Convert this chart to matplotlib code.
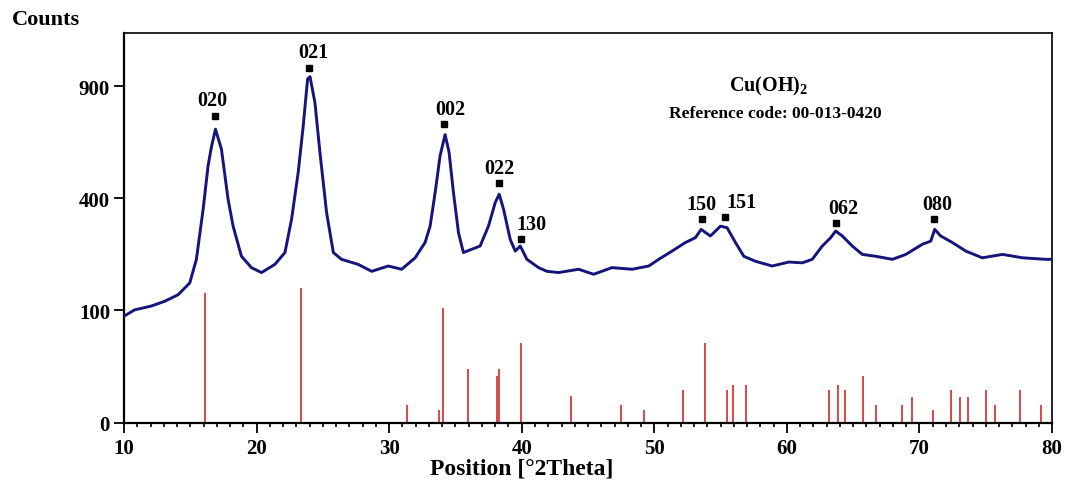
import numpy as np
import matplotlib
matplotlib.use("Agg")
import matplotlib.pyplot as plt
from matplotlib.ticker import MultipleLocator, FixedLocator

plt.rcParams["mathtext.fontset"] = "custom"
plt.rcParams["mathtext.rm"] = "Liberation Serif:bold"
plt.rcParams["mathtext.bf"] = "Liberation Serif:bold"

# ---- data ----
two_theta = [10.0, 10.8, 12.06, 13.07, 14.08, 14.96, 15.46, 15.97, 16.34, 16.6, 16.9,
             17.35, 17.85, 18.23, 18.86, 19.61, 20.37, 21.38, 22.14, 22.64, 23.14,
             23.52, 23.85, 24.03, 24.4, 24.78, 25.28, 25.79, 26.41, 27.67, 28.68,
             29.94, 30.94, 31.96, 32.71, 33.09, 33.47, 33.84, 34.22, 34.52, 34.85,
             35.23, 35.6, 36.23, 36.86, 37.49, 38.0, 38.3, 38.63, 39.13, 39.51,
             39.89, 40.39, 41.27, 41.9, 42.78, 44.29, 45.42, 46.81, 48.32, 49.58,
             50.33, 51.34, 52.35, 53.1, 53.53, 54.23, 54.99, 55.49, 56.12, 56.75,
             57.63, 58.89, 60.15, 61.16, 61.91, 62.67, 63.3, 63.68, 64.18, 64.93,
             65.69, 66.7, 67.96, 68.97, 70.22, 70.85, 71.15, 71.6, 72.48, 73.49,
             74.74, 76.26, 77.77, 79.53, 80.0]
counts = [90, 101, 108, 117, 130, 155, 212, 362, 524, 606, 685,
          595, 397, 307, 220, 191, 179, 199, 230, 329, 498,
          701, 940, 952, 816, 581, 351, 230, 212, 199, 182,
          195, 187, 216, 258, 307, 421, 566, 660, 581, 421,
          287, 230, 239, 248, 307, 385, 415, 362, 267, 234,
          248, 212, 191, 182, 179, 187, 175, 191, 187, 195,
          212, 234, 258, 272, 297, 277, 307, 302, 258, 220,
          207, 195, 205, 203, 212, 248, 272, 292, 277, 248,
          225, 220, 212, 225, 253, 262, 297, 277, 258, 234,
          216, 225, 216, 212, 212]

ref_pos = [16.09, 23.35, 31.35, 33.74, 34.04, 35.93, 38.15, 38.25, 39.98, 43.74,
           47.49, 49.23, 52.2, 53.8, 55.47, 55.94, 56.9, 63.15, 63.85, 64.4,
           65.74, 66.72, 68.71, 69.42, 71.05, 72.39, 73.07, 73.65, 75.05, 75.66,
           77.6, 79.19]
ref_int = [134, 144, 2.5, 1.3, 105, 22.8, 17.5, 22.8, 50.4, 5.4,
           2.5, 1.3, 8.2, 50.4, 8.2, 10.95, 10.95, 8.2, 10.95, 8.2,
           16.9, 2.5, 2.5, 5.2, 1.3, 8.2, 5.2, 5.2, 8.2, 2.5,
           8.2, 2.5]

peak_labels = ["020", "021", "002", "022", "130", "150", "151", "062", "080"]
peak_pos = [16.87, 23.97, 34.17, 38.32, 39.91, 53.58, 55.32, 63.7, 71.1]
peak_mark = [748, 1001, 709, 456, 267, 329, 335, 316, 329]
label_dx = [-2, 3, 4, 0, 8, 0, 12, 5, 2]

x_ticks = [10, 20, 30, 40, 50, 60, 70, 80]
y_ticks = [0, 100, 400, 900]

serif = ["Liberation Serif", "DejaVu Serif"]

fig = plt.figure(figsize=(10.67, 4.81), dpi=100)
ax = fig.add_axes([0.1162, 0.1195, 0.8698, 0.8095])

fwd = lambda y: np.sqrt(np.clip(y, 0, None))
inv = lambda y: np.asarray(y) ** 2
ax.set_yscale("function", functions=(fwd, inv))

ax.vlines(ref_pos, 0, ref_int, colors="#d43c3c", linewidth=1.3, zorder=2)
ax.plot(two_theta, counts, color="#14147a", linewidth=2.1, zorder=3)

ax.plot(peak_pos, peak_mark, linestyle="none", marker="s", markersize=5,
        color="black", zorder=4)
for lab, px, py, dx in zip(peak_labels, peak_pos, peak_mark, label_dx):
    ax.annotate(lab, (px, py), xytext=(dx, 4), textcoords="offset points",
                ha="center", va="bottom", fontsize=14.5, fontweight="bold",
                family=serif, color="black")

ax.set_xlim(10, 80)
ax.set_ylim(0, 1207)
ax.xaxis.set_major_locator(FixedLocator(x_ticks))
ax.xaxis.set_minor_locator(MultipleLocator(1))
ax.yaxis.set_major_locator(FixedLocator(y_ticks))
ax.yaxis.set_minor_locator(FixedLocator([]))

ax.tick_params(axis="both", which="major", direction="out", length=7, width=1.3,
               labelsize=15, pad=3)
ax.tick_params(axis="x", which="major", pad=4)
ax.tick_params(axis="x", which="minor", direction="out", length=3.2, width=1.2)
for lbl in ax.get_xticklabels() + ax.get_yticklabels():
    lbl.set_fontweight("bold")
    lbl.set_family(serif)

for side in ["left", "bottom"]:
    ax.spines[side].set_linewidth(1.6)
for side in ["top", "right"]:
    ax.spines[side].set_linewidth(1.2)

fig.text(522 / 1067, 1 - 469 / 481, "Position [°2Theta]", fontsize=17,
         fontweight="bold", family=serif, ha="center", va="center")
fig.text(0.011, 0.958, "Counts", fontsize=16, fontweight="bold",
         family=serif, ha="left", va="center")

fig.text(769 / 1067, 1 - 86 / 481, r"Cu(OH)$_\mathbf{2}$", fontsize=14.5,
         fontweight="bold", family=serif, ha="center", va="center")
fig.text(775 / 1067, 1 - 114 / 481, "Reference code: 00-013-0420", fontsize=12.5,
         fontweight="bold", family=serif, ha="center", va="center")

fig.savefig("out.png", dpi=100)
